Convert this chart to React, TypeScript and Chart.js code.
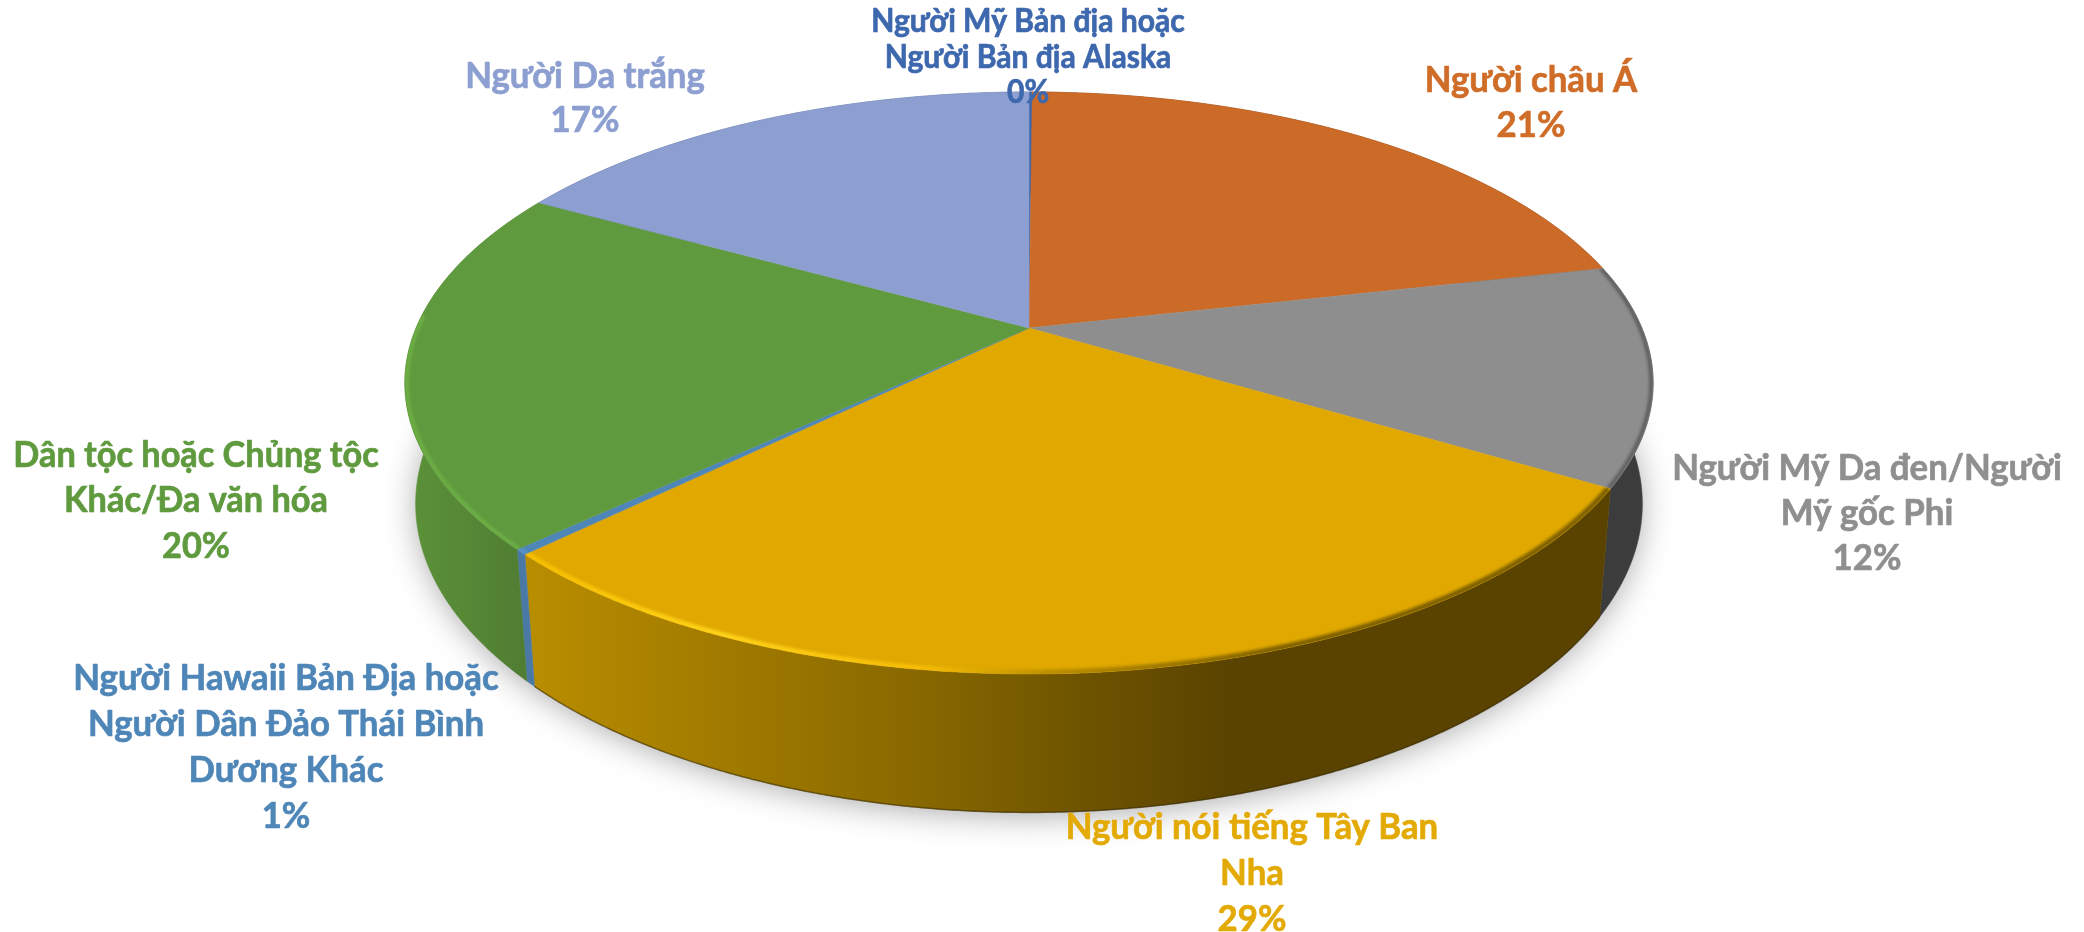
import React, { useEffect, useRef } from "react";
import { Chart, registerables } from "chart.js";

Chart.register(...registerables);

// Values (percent of the circle, clockwise from 12 o'clock)
const categories = [
  "Người Mỹ Bản địa hoặc Người Bản địa Alaska",
  "Người châu Á",
  "Người Mỹ Da đen/Người Mỹ gốc Phi",
  "Người nói tiếng Tây Ban Nha",
  "Người Hawaii Bản Địa hoặc Người Dân Đảo Thái Bình Dương Khác",
  "Dân tộc hoặc Chủng tộc Khác/Đa văn hóa",
  "Người Da trắng",
];
const shares = [0.1, 21.35, 12.2, 29.0, 0.3, 20.15, 16.9];
const percentLabels = ["0%", "21%", "12%", "29%", "1%", "20%", "17%"];
const labelLines = [
  ["Người Mỹ Bản địa hoặc", "Người Bản địa Alaska"],
  ["Người châu Á"],
  ["Người Mỹ Da đen/Người", "Mỹ gốc Phi"],
  ["Người nói tiếng Tây Ban", "Nha"],
  ["Người Hawaii Bản Địa hoặc", "Người Dân Đảo Thái Bình", "Dương Khác"],
  ["Dân tộc hoặc Chủng tộc", "Khác/Đa văn hóa"],
  ["Người Da trắng"],
];

const topColors = ["#3E68AE", "#CC6B28", "#8E8E8E", "#E0A800", "#4F86B8", "#609A3F", "#8C9FD0"];
const textColors = ["#3E68AE", "#CF6D28", "#8F8F8F", "#E3AA05", "#4F86B8", "#609A3F", "#8C9FD0"];

// Lay-out of the labels: centre x, first line centre y, line step, font size
const labelLayout = [
  { x: 1028, y: 22, step: 35.5, size: 32 },
  { x: 1531, y: 80, step: 45, size: 37 },
  { x: 1867, y: 468, step: 45, size: 37 },
  { x: 1252, y: 827, step: 46, size: 37 },
  { x: 286, y: 678, step: 46, size: 37 },
  { x: 196, y: 455, step: 45.5, size: 36.5 },
  { x: 585, y: 76, step: 44, size: 37 },
];
const TEXT_SQUEEZE = 0.94;
const FONT = '"Lato", "Open Sans", "Noto Sans", sans-serif';

// Wall shading as stops over the width of the pie (0 = left extreme, 1 = right extreme)
const wallStops: [number, string][][] = [
  [[0, "#2f4f85"], [1, "#2f4f85"]],
  [[0, "#7a4018"], [1, "#7a4018"]],
  [[0, "#3C3C3C"], [1, "#3C3C3C"]],
  [[0, "#c59600"], [0.1, "#b98d00"], [0.4, "#8a6a00"], [0.56, "#6b5100"], [0.66, "#5a4300"], [1, "#5a4300"]],
  [[0, "#4a79a6"], [1, "#4a79a6"]],
  [[0, "#5c9239"], [0.1, "#4f7c32"], [1, "#4f7c32"]],
  [[0, "#5a6c94"], [1, "#5a6c94"]],
];
const rimStops: ([number, string][] | null)[] = [
  null,
  null,
  [[0, "#5c5c5c"], [1, "#5c5c5c"]],
  [[0, "#f2b800"], [0.1, "#f5be00"], [0.25, "#ffd21a"], [0.42, "#f4bb05"], [0.52, "#b88c00"], [0.7, "#7e6000"], [1, "#7e6000"]],
  [[0, "#5a94c8"], [1, "#5a94c8"]],
  [[0, "#6db044"], [1, "#6db044"]],
  null,
];
// the bevel is only lit on the part of the edge nearer than this
const RIM_FROM_V = -0.05;

// Perspective of the disc
const TILT = 0.189;
const DEPTH_W = 0.017;
const KX = 2.597;
const KY = 1.189;
const KZ = 0.5106;

type Pt = { x: number; y: number };

function project(arc: any, a: number, radial: number, z: number): Pt {
  const r = arc.outerRadius;
  const u = Math.cos(a) * radial;
  const v = Math.sin(a) * radial;
  const w = 1 - TILT * v + DEPTH_W * z;
  return {
    x: arc.x + (KX * r * u) / w,
    y: arc.y + (KY * r * v + KZ * r * z) / w,
  };
}

function edge(arc: any, from: number, to: number, radial: number, z: number): Pt[] {
  const n = Math.max(2, Math.ceil(Math.abs(to - from) / 0.005));
  const out: Pt[] = [];
  for (let i = 0; i <= n; i++) out.push(project(arc, from + ((to - from) * i) / n, radial, z));
  return out;
}

function trace(ctx: CanvasRenderingContext2D, pts: Pt[], close = true) {
  ctx.beginPath();
  pts.forEach((p, i) => (i ? ctx.lineTo(p.x, p.y) : ctx.moveTo(p.x, p.y)));
  if (close) ctx.closePath();
}

function widthGradient(ctx: CanvasRenderingContext2D, arc: any, stops: [number, string][]) {
  const half = (KX * arc.outerRadius) / Math.sqrt(1 - TILT * TILT);
  const g = ctx.createLinearGradient(arc.x - half, 0, arc.x + half, 0);
  stops.forEach(([o, c]) => g.addColorStop(o, c));
  return g;
}

const piePerspective = {
  id: "piePerspective",
  beforeDatasetDraw(chart: any) {
    const ctx: CanvasRenderingContext2D = chart.ctx;
    const arcs: any[] = chart.getDatasetMeta(0).data;
    const first = arcs[0];

    // soft shadow under the base
    ctx.save();
    ctx.shadowColor = "rgba(0,0,0,0.38)";
    ctx.shadowBlur = 34;
    ctx.shadowOffsetY = 3;
    ctx.fillStyle = "#ffffff";
    trace(ctx, edge(first, 0, Math.PI * 2, 0.995, 1));
    ctx.fill();
    ctx.restore();

    // outer walls
    arcs.forEach((arc, i) => {
      const top = edge(arc, arc.startAngle, arc.endAngle, 1, 0);
      const bottom = edge(arc, arc.startAngle, arc.endAngle, 1, 1).reverse();
      const fill = widthGradient(ctx, arc, wallStops[i]);
      ctx.fillStyle = fill;
      ctx.strokeStyle = fill;
      ctx.lineWidth = 0.6;
      trace(ctx, top.concat(bottom));
      ctx.fill();
      ctx.stroke();
    });

    // dark line along the base of the front wall
    ctx.save();
    ctx.strokeStyle = "rgba(50,36,0,0.55)";
    ctx.lineWidth = 1.5;
    trace(ctx, edge(arcs[3], arcs[3].startAngle, arcs[3].endAngle, 1, 1), false);
    ctx.stroke();
    ctx.restore();

    // top face
    arcs.forEach((arc, i) => {
      const pts = [project(arc, 0, 0, 0)].concat(edge(arc, arc.startAngle, arc.endAngle, 1, 0));
      ctx.fillStyle = topColors[i];
      ctx.strokeStyle = topColors[i];
      ctx.lineWidth = 0.5;
      trace(ctx, pts);
      ctx.fill();
      ctx.stroke();
    });

    // bevel along the front of the top face
    arcs.forEach((arc, i) => {
      const stops = rimStops[i];
      if (!stops) return;
      const g = widthGradient(ctx, arc, stops);
      ctx.save();
      const clip = [project(arc, 0, 0, 0)].concat(edge(arc, arc.startAngle, arc.endAngle, 1, 0));
      trace(ctx, clip);
      ctx.clip();
      ctx.filter = "blur(1.4px)";
      ctx.strokeStyle = g;
      ctx.lineWidth = i === 3 ? 6 : 4;
      ctx.lineCap = "butt";
      const lit: Pt[] = [];
      const n = Math.ceil((arc.endAngle - arc.startAngle) / 0.005);
      for (let k = 0; k <= n; k++) {
        const a = arc.startAngle + ((arc.endAngle - arc.startAngle) * k) / n;
        if (i === 2 || Math.sin(a) > RIM_FROM_V) lit.push(project(arc, a, 0.997, 0));
      }
      if (lit.length > 1) {
        trace(ctx, lit, false);
        ctx.stroke();
      }
      ctx.restore();
    });
    return false;
  },
  afterDatasetsDraw(chart: any) {
    const ctx: CanvasRenderingContext2D = chart.ctx;
    ctx.save();
    ctx.textAlign = "center";
    ctx.textBaseline = "middle";
    ctx.lineJoin = "round";
    ctx.lineWidth = 0.7;
    labelLines.forEach((lines, i) => {
      const l = labelLayout[i];
      ctx.font = `bold ${l.size}px ${FONT}`;
      ctx.fillStyle = textColors[i];
      ctx.strokeStyle = textColors[i];
      lines.concat(percentLabels[i]).forEach((t, j) => {
        ctx.save();
        ctx.translate(l.x, l.y + j * l.step);
        ctx.scale(TEXT_SQUEEZE, 1);
        ctx.strokeText(t, 0, 0);
        ctx.fillText(t, 0, 0);
        ctx.restore();
      });
    });
    ctx.restore();
  },
};

export default function App() {
  const ref = useRef<HTMLCanvasElement | null>(null);
  useEffect(() => {
    document.body.style.margin = "0";
    const chart = new Chart(ref.current!, {
      type: "pie",
      data: {
        labels: categories,
        datasets: [{ data: shares, backgroundColor: topColors, borderWidth: 0 }],
      },
      options: {
        responsive: false,
        animation: false,
        layout: { padding: { left: 0, right: 26, top: 92, bottom: 368 } },
        plugins: { legend: { display: false }, tooltip: { enabled: false } },
      },
      plugins: [piePerspective],
    } as any);
    return () => chart.destroy();
  }, []);
  return <canvas ref={ref} width={2084} height={932} style={{ display: "block" }} />;
}
